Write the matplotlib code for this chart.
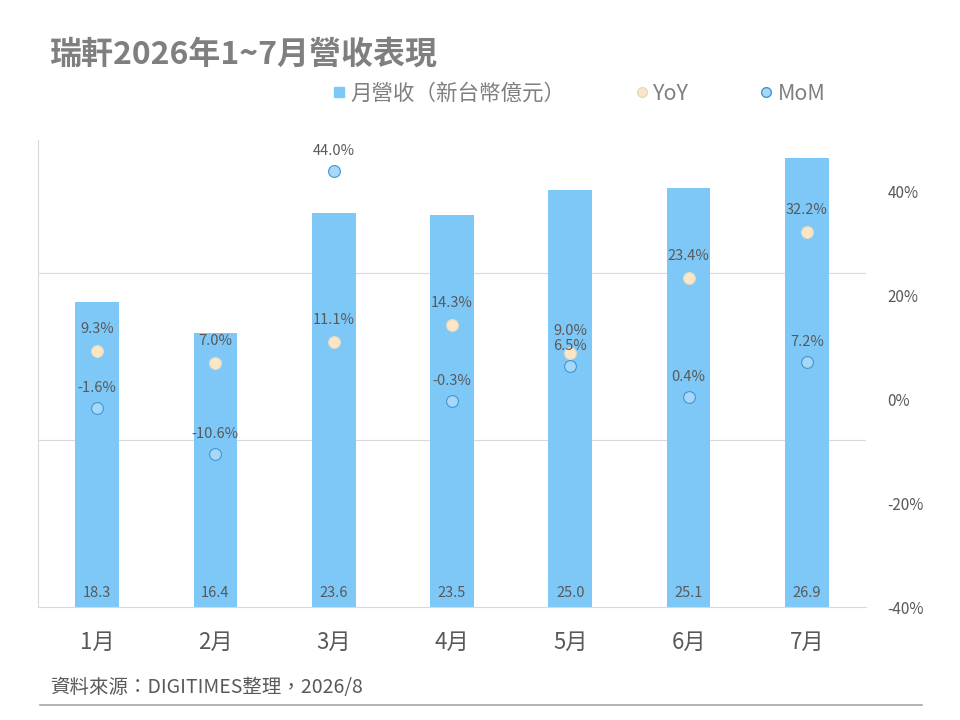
import matplotlib
matplotlib.use("Agg")
import matplotlib.pyplot as plt
from matplotlib.lines import Line2D
import numpy as np

plt.rcParams['font.family'] = ['Noto Sans CJK TC', 'DejaVu Sans']

months = ["1月", "2月", "3月", "4月", "5月", "6月", "7月"]
revenue = [18.3, 16.4, 23.6, 23.5, 25.0, 25.1, 26.9]
yoy = [9.3, 7.0, 11.1, 14.3, 9.0, 23.4, 32.2]
mom = [-1.6, -10.6, 44.0, -0.3, 6.5, 0.4, 7.2]
right_ticks = [-40, -20, 0, 20, 40]

title = "瑞軒2026年1~7月營收表現"
source = "資料來源：DIGITIMES整理，2026/8"

bar_color = "#7EC8F8"
yoy_face = "#FBE7C8"
yoy_edge = "#E8D9BE"
mom_face = "#A8D8F8"
mom_edge = "#3E97D6"
txt = "#595959"
grid = "#D9D9D9"

fig = plt.figure(figsize=(9.6, 7.2), dpi=100)
ax = fig.add_axes([38/960, 1-607/720, (866-38)/960, (607-140)/720])
x = np.arange(len(months))
ax.bar(x, revenue, width=0.37, color=bar_color, zorder=2)
ax.set_xlim(-0.5, 6.5)
ax.set_ylim(0, 28)
ax.set_yticks([10, 20])
ax.yaxis.grid(True, color=grid, linewidth=0.8, zorder=0)
ax.set_xticks(x)
ax.set_xticklabels(months)
for s in ['top', 'right']:
    ax.spines[s].set_visible(False)
ax.spines['left'].set_color(grid)
ax.spines['bottom'].set_color(grid)
for xi, v in zip(x, revenue):
    ax.annotate(f"{v:.1f}", (xi, 0), xytext=(0, 10), textcoords='offset points',
                ha='center', va='center', fontsize=10.5, color=txt, zorder=5)

ax2 = ax.twinx()
ax.tick_params(axis='y', left=False, right=False, labelleft=False, labelright=False)
ax.tick_params(axis='x', bottom=False, labelsize=16, labelcolor=txt, pad=14)
ax2.set_ylim(-40, 50)
ax2.set_yticks(right_ticks)
ax2.set_yticklabels([f"{t}%" for t in right_ticks])
ax2.tick_params(axis='y', right=False, left=False, labelsize=11, labelcolor=txt, pad=12)
for s in ['top', 'right', 'left', 'bottom']:
    ax2.spines[s].set_visible(False)
ax2.plot(x, yoy, linestyle='none', marker='o', markersize=8.5,
         markerfacecolor=yoy_face, markeredgecolor=yoy_edge, markeredgewidth=0.8, zorder=3)
ax2.plot(x, mom, linestyle='none', marker='o', markersize=8.5,
         markerfacecolor=mom_face, markeredgecolor=mom_edge, markeredgewidth=0.8, zorder=3)
for xi, v in zip(x, yoy):
    ax2.annotate(f"{v:.1f}%", (xi, v), xytext=(0, 16), textcoords='offset points',
                 ha='center', va='center', fontsize=10.5, color=txt)
for xi, v in zip(x, mom):
    ax2.annotate(f"{v:.1f}%", (xi, v), xytext=(0, 14.5), textcoords='offset points',
                 ha='center', va='center', fontsize=10.5, color=txt)

handles = [
    Line2D([0], [0], linestyle='none', marker='s', markersize=7, markerfacecolor=bar_color, markeredgecolor=bar_color),
    Line2D([0], [0], linestyle='none', marker='o', markersize=7, markerfacecolor=yoy_face, markeredgecolor=yoy_edge),
    Line2D([0], [0], linestyle='none', marker='o', markersize=7, markerfacecolor=mom_face, markeredgecolor=mom_edge),
]
labels = ["月營收（新台幣億元）", "YoY", "MoM"]
leg = fig.legend(handles, labels, ncol=3, loc='center left', bbox_to_anchor=(334/960, 1-94/720),
                 frameon=False, fontsize=15.5, handlelength=0.45, handletextpad=0.3,
                 columnspacing=3.35, borderaxespad=0, borderpad=0)
for t in leg.get_texts():
    t.set_color("#7F7F7F")

fig.text(50/960, 1-55/720, title, fontsize=23, fontweight='bold', color="#7F7F7F",
         ha='left', va='center')
fig.text(50/960, 1-688/720, source, fontsize=14, color=txt, ha='left', va='center')
fig.add_artist(Line2D([40/960, 922/960], [1-705/720, 1-705/720], color="#A6A6A6", linewidth=1.2))

fig.savefig("out.png", dpi=100)
